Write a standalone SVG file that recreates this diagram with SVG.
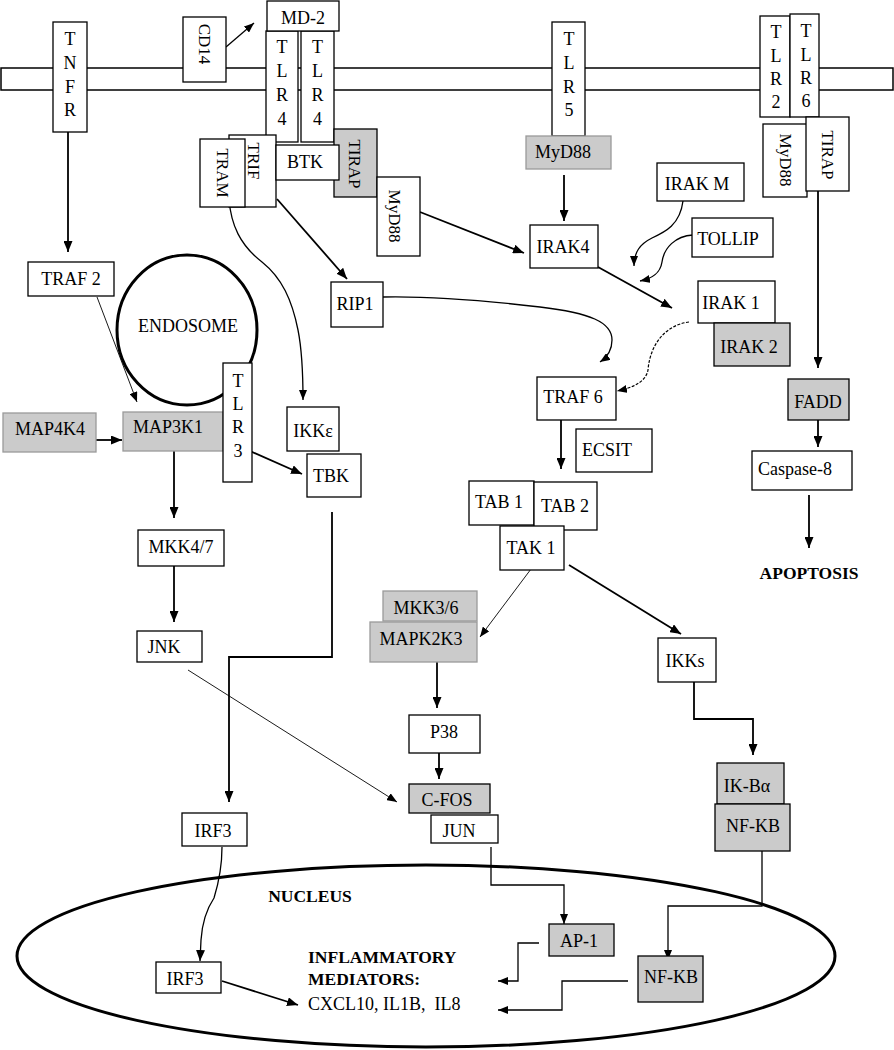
<svg xmlns="http://www.w3.org/2000/svg" width="894" height="1050" viewBox="0 0 894 1050">
<style>
text{font-family:"Liberation Serif","Times New Roman",serif;font-size:18px;fill:#000}
.m{text-anchor:middle}
.bd{font-weight:bold;font-size:17.5px}
.r{font-size:17px}
.b{fill:#fff;stroke:#000;stroke-width:1.3}
.g{fill:#cbcbcb;stroke:#000;stroke-width:1.3}
.g2{fill:#cbcbcb;stroke:#9a9a9a;stroke-width:1.3}
.c{fill:none;stroke:#000;stroke-width:1.8}
.t{fill:none;stroke:#000;stroke-width:0.9}
.w{fill:none;stroke:#000;stroke-width:1.3}
.d{fill:none;stroke:#000;stroke-width:1.2;stroke-dasharray:3 1.5}
.o{fill:none;stroke:#000;stroke-width:3}
</style>
<defs>
<marker id="a" markerUnits="userSpaceOnUse" markerWidth="11" markerHeight="9" refX="11" refY="4.5" orient="auto"><path d="M0,0 L11,4.5 L0,9 z" fill="#000"/></marker>
<marker id="s" markerUnits="userSpaceOnUse" markerWidth="10" markerHeight="8" refX="10" refY="4" orient="auto"><path d="M0,0 L10,4 L0,8 z" fill="#000"/></marker>
</defs>
<rect width="894" height="1050" fill="#fff"/>
<g id="membrane"><rect x="1" y="68" width="892" height="22" fill="none" stroke="#000" stroke-width="1.5"/></g>
<g id="endosome"><ellipse cx="187" cy="330" rx="70" ry="75" class="o"/><text x="188" y="332" class="m">ENDOSOME</text></g>
<g id="nucleus"><ellipse cx="426" cy="956" rx="409" ry="91" class="o"/><text x="310" y="902" class="m bd">NUCLEUS</text></g>
<g id="connectors">
<path d="M226,47 L254,23" class="w" marker-end="url(#s)"/>
<path d="M68,132 L68,252" class="c" marker-end="url(#a)"/>
<path d="M97,297 L137,402" class="t" marker-end="url(#s)"/>
<path d="M96,440 L122,440" class="c" marker-end="url(#a)"/>
<path d="M174,451 L174,518" class="c" marker-end="url(#a)"/>
<path d="M174,566 L174,622" class="c" marker-end="url(#a)"/>
<path d="M188,670 L397,802" class="t" marker-end="url(#s)"/>
<path d="M229,199 C231,225 240,245 262,262 C282,278 292,300 298,330 C303,355 303,380 303,400" class="w" marker-end="url(#s)"/>
<path d="M277,199 L347,279" class="c" marker-end="url(#a)"/>
<path d="M420,212 L524,253" class="c" marker-end="url(#a)"/>
<path d="M250,451 L302,474" class="c" marker-end="url(#a)"/>
<path d="M332,512 L332,657 L229,657 L229,802" class="c" marker-end="url(#a)"/>
<path d="M222,847 C222,865 218,885 214,898 C206,910 202,925 201,940 L200,961" class="w" marker-end="url(#a)"/>
<path d="M222,981 L298,1005" class="c" marker-end="url(#a)"/>
<path d="M564,175 L564,221" class="c" marker-end="url(#a)"/>
<path d="M683,201 C680,225 665,232 652,238 C640,244 634,252 634,266" class="w" marker-end="url(#s)"/>
<path d="M693,235 C675,236 664,248 662,262 C660,275 650,279 640,281" class="w" marker-end="url(#s)"/>
<path d="M598,267 L672,308" class="c" marker-end="url(#a)"/>
<path d="M383,297 C430,296 480,300 540,307 C590,313 612,322 612,340 C612,352 606,358 600,362" class="w" marker-end="url(#s)"/>
<path d="M689,322 C665,325 650,345 648,370 C646,382 632,388 617,391" class="d" marker-end="url(#s)"/>
<path d="M561,420 L561,469" class="c" marker-end="url(#a)"/>
<path d="M818,191 L818,368" class="c" marker-end="url(#a)"/>
<path d="M818,420 L818,447" class="c" marker-end="url(#a)"/>
<path d="M809,495 L809,548" class="c" marker-end="url(#a)"/>
<path d="M531,569 L480,637" class="t" marker-end="url(#s)"/>
<path d="M569,565 L681,634" class="c" marker-end="url(#a)"/>
<path d="M437,662 L437,708" class="c" marker-end="url(#a)"/>
<path d="M439,753 L439,779" class="c" marker-end="url(#a)"/>
<path d="M694,682 L694,719 L753,719 L753,755" class="c" marker-end="url(#a)"/>
<path d="M491,847 L491,885 L564,885 L564,924" class="w" marker-end="url(#s)"/>
<path d="M762,851 L762,906 L668,906 L668,960" class="w" marker-end="url(#s)"/>
<path d="M539,943 L518,943 L518,981 L498,981" class="w" marker-end="url(#s)"/>
<path d="M628,981 L562,981 L562,1010 L498,1010" class="w" marker-end="url(#s)"/>
</g>
<g id="TNFR"><rect x="53" y="22" width="34" height="110" class="b"/><text x="70" y="45" class="m">T</text><text x="70" y="69" class="m">N</text><text x="70" y="93" class="m">F</text><text x="70" y="116" class="m">R</text></g>
<g id="CD14"><rect x="183" y="17" width="43" height="65" class="b"/><text transform="translate(205,44) rotate(90)" y="6" class="m r">CD14</text></g>
<g id="TLR4a"><rect x="266" y="31" width="32" height="111" class="b"/><text x="282" y="53" class="m">T</text><text x="282" y="77" class="m">L</text><text x="282" y="101" class="m">R</text><text x="282" y="125" class="m">4</text></g>
<g id="TLR4b"><rect x="301" y="31" width="33" height="111" class="b"/><text x="317.5" y="53" class="m">T</text><text x="317.5" y="77" class="m">L</text><text x="317.5" y="101" class="m">R</text><text x="317.5" y="125" class="m">4</text></g>
<g id="MD2"><rect x="267" y="1" width="72" height="30" class="b"/><text x="303" y="24" class="m">MD-2</text></g>
<g id="TRIF"><rect x="229" y="135" width="47" height="72" class="b"/><text transform="translate(254,161) rotate(90)" y="6" class="m r">TRIF</text></g>
<g id="TRAM"><rect x="200" y="139" width="45" height="68" class="b"/><text transform="translate(223,173) rotate(90)" y="6" class="m r">TRAM</text></g>
<g id="TIRAP1"><rect x="334" y="129" width="43" height="68" class="g"/><text transform="translate(355,164) rotate(90)" y="6" class="m r">TIRAP</text></g>
<g id="BTK"><rect x="276" y="145" width="63" height="35" class="b"/><text x="305" y="168" class="m">BTK</text></g>
<g id="MyD88a"><rect x="377" y="177" width="43" height="79" class="b"/><text transform="translate(395,216) rotate(90)" y="6" class="m r">MyD88</text></g>
<g id="RIP1"><rect x="331" y="282" width="52" height="45" class="b"/><text x="355" y="310" class="m">RIP1</text></g>
<g id="TRAF2"><rect x="28" y="262" width="86" height="34" class="b"/><text x="71" y="285" class="m">TRAF 2</text></g>
<g id="MAP4K4"><rect x="3" y="413" width="93" height="39" class="g2"/><text x="50" y="435" class="m">MAP4K4</text></g>
<g id="MAP3K1"><rect x="123" y="412" width="100" height="39" class="g2"/><text x="168" y="433" class="m">MAP3K1</text></g>
<g id="TLR3"><rect x="223" y="363" width="29" height="119" class="b"/><text x="238" y="387" class="m">T</text><text x="238" y="410" class="m">L</text><text x="238" y="433" class="m">R</text><text x="238" y="457" class="m">3</text></g>
<g id="IKKe"><rect x="287" y="407" width="52" height="44" class="b"/><text x="313" y="437" class="m">IKKε</text></g>
<g id="TBK"><rect x="307" y="454" width="54" height="43" class="b"/><text x="331" y="482" class="m">TBK</text></g>
<g id="MKK47"><rect x="138" y="530" width="86" height="36" class="b"/><text x="181" y="553" class="m">MKK4/7</text></g>
<g id="JNK"><rect x="137" y="631" width="65" height="31" class="b"/><text x="164" y="653" class="m">JNK</text></g>
<g id="IRF3a"><rect x="182" y="813" width="65" height="33" class="b"/><text x="213" y="837" class="m">IRF3</text></g>
<g id="IRF3b"><rect x="156" y="962" width="65" height="31" class="b"/><text x="185" y="985" class="m">IRF3</text></g>
<g id="TLR5"><rect x="552" y="22" width="33" height="114" class="b"/><text x="569" y="45" class="m">T</text><text x="569" y="69" class="m">L</text><text x="569" y="93" class="m">R</text><text x="569" y="116" class="m">5</text></g>
<g id="MyD88b"><rect x="526" y="136" width="85" height="33" class="g2"/><text x="563" y="158" class="m">MyD88</text></g>
<g id="IRAK4"><rect x="530" y="225" width="68" height="43" class="b"/><text x="563" y="253" class="m">IRAK4</text></g>
<g id="IRAKM"><rect x="657" y="163" width="87" height="38" class="b"/><text x="697" y="190" class="m">IRAK M</text></g>
<g id="TOLLIP"><rect x="692" y="218" width="81" height="39" class="b"/><text x="728" y="245" class="m">TOLLIP</text></g>
<g id="IRAK1"><rect x="698" y="281" width="77" height="42" class="b"/><text x="731" y="309" class="m">IRAK 1</text></g>
<g id="IRAK2"><rect x="714" y="323" width="76" height="43" class="g"/><text x="749" y="353" class="m">IRAK 2</text></g>
<g id="TRAF6"><rect x="537" y="377" width="79" height="43" class="b"/><text x="573" y="403" class="m">TRAF 6</text></g>
<g id="ECSIT"><rect x="576" y="429" width="76" height="43" class="b"/><text x="607" y="456" class="m">ECSIT</text></g>
<g id="TLR2"><rect x="760" y="16" width="30" height="101" class="b"/><text x="776" y="38" class="m">T</text><text x="776" y="62" class="m">L</text><text x="776" y="85" class="m">R</text><text x="776" y="108" class="m">2</text></g>
<g id="TLR6"><rect x="790" y="14" width="29" height="103" class="b"/><text x="806" y="37" class="m">T</text><text x="806" y="61" class="m">L</text><text x="806" y="84" class="m">R</text><text x="806" y="107" class="m">6</text></g>
<g id="MyD88c"><rect x="763" y="124" width="44" height="73" class="b"/><text transform="translate(786,160) rotate(90)" y="6" class="m r">MyD88</text></g>
<g id="TIRAP2"><rect x="806" y="117" width="43" height="74" class="b"/><text transform="translate(828,155) rotate(90)" y="6" class="m r">TIRAP</text></g>
<g id="FADD"><rect x="788" y="379" width="61" height="41" class="g"/><text x="818" y="408" class="m">FADD</text></g>
<g id="Caspase8"><rect x="752" y="451" width="100" height="39" class="b"/><text x="795" y="475" class="m">Caspase-8</text></g>
<g id="APOPTOSIS"><text x="809" y="579" class="m bd">APOPTOSIS</text></g>
<g id="TAB1"><rect x="469" y="481" width="65" height="44" class="b"/><text x="499" y="508" class="m">TAB 1</text></g>
<g id="TAB2"><rect x="534" y="482" width="63" height="48" class="b"/><text x="565" y="512" class="m">TAB 2</text></g>
<g id="TAK1"><rect x="500" y="526" width="64" height="44" class="b"/><text x="531" y="554" class="m">TAK 1</text></g>
<g id="MKK36"><rect x="383" y="591" width="94" height="30" class="g2"/><text x="426" y="614" class="m">MKK3/6</text></g>
<g id="MAPK2K3"><rect x="370" y="622" width="107" height="40" class="g2"/><text x="421" y="645" class="m">MAPK2K3</text></g>
<g id="IKKs"><rect x="658" y="638" width="58" height="44" class="b"/><text x="685" y="667" class="m">IKKs</text></g>
<g id="P38"><rect x="409" y="715" width="71" height="38" class="b"/><text x="444" y="738" class="m">P38</text></g>
<g id="CFOS"><rect x="409" y="784" width="81" height="29" class="g"/><text x="447" y="806" class="m">C-FOS</text></g>
<g id="JUN"><rect x="431" y="815" width="67" height="28" class="b"/><text x="459" y="837" class="m">JUN</text></g>
<g id="IKBa"><rect x="717" y="763" width="67" height="41" class="g"/><text x="747" y="792" class="m">IK-Bα</text></g>
<g id="NFKB1"><rect x="715" y="804" width="75" height="47" class="g"/><text x="753" y="832" class="m">NF-KB</text></g>
<g id="AP1"><rect x="549" y="924" width="65" height="32" class="g"/><text x="579" y="947" class="m">AP-1</text></g>
<g id="NFKB2"><rect x="638" y="956" width="65" height="46" class="g"/><text x="671" y="983" class="m">NF-KB</text></g>
<g id="mediators"><text x="308" y="963" class="bd">INFLAMMATORY</text><text x="308" y="985" class="bd">MEDIATORS:</text><text x="308" y="1010" xml:space="preserve">CXCL10, IL1B,  IL8</text></g>
</svg>
